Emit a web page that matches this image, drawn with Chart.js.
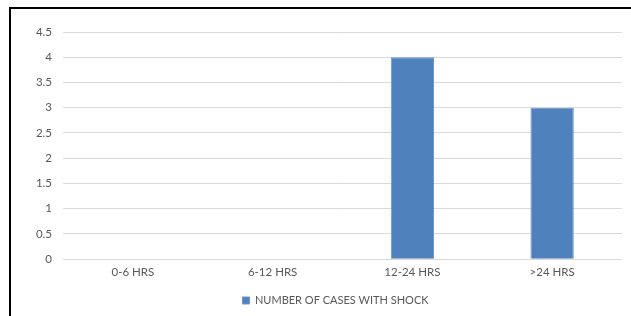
<!DOCTYPE html>
<html><head><meta charset="utf-8">
<script src="https://cdn.jsdelivr.net/npm/chart.js@4"></script>
<style>
html,body{margin:0;padding:0;background:#fff;}
#wrap{position:absolute;left:0;top:0;width:631px;height:316px;}
#frame{position:absolute;left:9px;top:7px;width:622px;height:309px;border-top:2.5px solid #000;border-left:2.5px solid #000;box-sizing:border-box;pointer-events:none;}
canvas{position:absolute;left:0;top:0;}
</style></head>
<body>
<div id="wrap"><canvas id="c" width="631" height="316"></canvas><div id="frame"></div></div>
<script>
const categories = ["0-6 HRS", "6-12 HRS", "12-24 HRS", ">24 HRS"];
const casesWithShock = [0, 0, 4, 3];
const seriesName = "NUMBER OF CASES WITH SHOCK";
const yTicks = [0, 0.5, 1, 1.5, 2, 2.5, 3, 3.5, 4, 4.5];

const FONT = "Lato, 'Open Sans', sans-serif";
const shiftLegend = {
  id: 'shiftLegend',
  afterLayout(chart) {
    const lg = chart.legend;
    const mid = (chart.chartArea.left + chart.chartArea.right) / 2 - 7;
    const d = mid - (lg.left + lg.right) / 2;
    lg.left += d; lg.right += d;
  }
};
new Chart(document.getElementById('c'), {
  type: 'bar',
  data: {
    labels: categories,
    datasets: [{
      label: seriesName,
      data: casesWithShock,
      backgroundColor: '#4f81bd',
      borderColor: '#6b95c8',
      borderWidth: 1,
      barPercentage: 0.62,
      categoryPercentage: 0.5
    }]
  },
  plugins: [shiftLegend],
  options: {
    responsive: false,
    animation: false,
    devicePixelRatio: 1,
    layout: { padding: { left: 0, right: 9, top: 32, bottom: 0 } },
    plugins: {
      legend: {
        position: 'bottom',
        labels: { boxWidth: 7, boxHeight: 7, color: '#595959', font: { family: FONT, size: 11 }, padding: 10 }
      },
      tooltip: { enabled: false }
    },
    scales: {
      x: {
        grid: { display: false, drawTicks: false },
        border: { display: false },
        ticks: { color: '#595959', font: { family: FONT, size: 11.5 }, padding: 6 }
      },
      y: {
        min: 0, max: 4.5,
        afterBuildTicks: (s) => { s.ticks = yTicks.map(v => ({ value: v })); },
        afterFit: (s) => { s.width = 63; },
        grid: { color: '#d9d9d9', drawTicks: false, lineWidth: 1 },
        border: { display: false },
        ticks: { color: '#595959', font: { family: FONT, size: 11.5 }, padding: 11,
          callback: (v) => String(v) }
      }
    }
  }
});
</script>
</body></html>
